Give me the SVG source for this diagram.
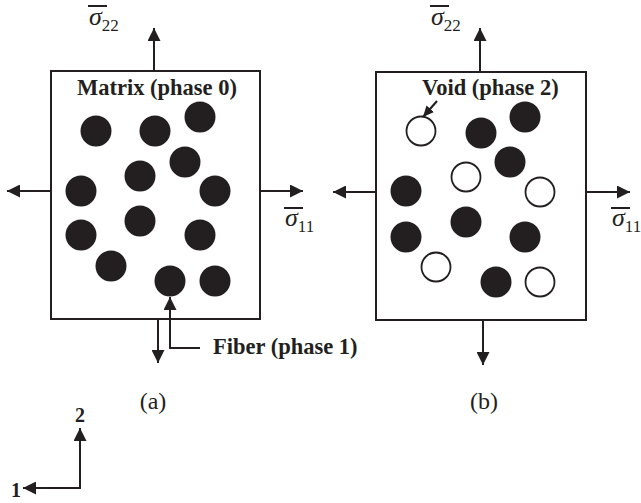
<svg xmlns="http://www.w3.org/2000/svg" width="641" height="503" viewBox="0 0 641 503">
<defs>
<marker id="ah" viewBox="0 0 13 13" refX="13" refY="6.5" markerWidth="13" markerHeight="13" markerUnits="userSpaceOnUse" orient="auto">
<path d="M0,0 L13,6.5 L0,13 Z" fill="#231f20"/>
</marker>
<marker id="ahs" viewBox="0 0 11 10" refX="11" refY="5" markerWidth="11" markerHeight="10" markerUnits="userSpaceOnUse" orient="auto">
<path d="M0,0 L11,5 L0,10 Z" fill="#231f20"/>
</marker>
</defs>
<style>
.box{fill:#fff;stroke:#231f20;stroke-width:2}
.f{fill:#231f20}
.h{fill:#fff;stroke:#231f20;stroke-width:1.8}
.ln{fill:none;stroke:#231f20;stroke-width:2}
.lb{font-family:"Liberation Serif",serif;font-weight:bold;font-size:22.5px;fill:#231f20}
.cap{font-family:"Liberation Serif",serif;font-size:24px;fill:#231f20}
.sg{font-family:"Liberation Serif",serif;font-style:italic;font-size:26px;fill:#231f20}
.sub{font-family:"Liberation Serif",serif;font-style:normal;font-size:17px;fill:#231f20}
.ax{font-family:"Liberation Serif",serif;font-weight:bold;font-size:20px;fill:#231f20}
</style>

<g id="panel-a">
<rect class="box" x="51" y="71" width="209" height="248"/>
<text class="lb" x="77" y="95">Matrix (phase 0)</text>
<circle class="f" cx="96" cy="131" r="15.5"/>
<circle class="f" cx="155" cy="131" r="15.5"/>
<circle class="f" cx="200" cy="117" r="15.5"/>
<circle class="f" cx="185" cy="162" r="15.5"/>
<circle class="f" cx="140" cy="176" r="15.5"/>
<circle class="f" cx="81" cy="191" r="15.5"/>
<circle class="f" cx="215" cy="191" r="15.5"/>
<circle class="f" cx="140" cy="221" r="15.5"/>
<circle class="f" cx="81" cy="235" r="15.5"/>
<circle class="f" cx="200" cy="235" r="15.5"/>
<circle class="f" cx="111" cy="266" r="15.5"/>
<circle class="f" cx="170" cy="281" r="15.5"/>
<circle class="f" cx="215" cy="281" r="15.5"/>
<text class="cap" x="153" y="409" text-anchor="middle">(a)</text>
</g>

<g id="panel-b">
<rect class="box" x="376" y="72" width="210" height="248"/>
<text class="lb" x="422" y="95">Void (phase 2)</text>
<circle class="h" cx="421" cy="131" r="14.5"/>
<circle class="f" cx="481" cy="133" r="15.5"/>
<circle class="f" cx="525" cy="117" r="15.5"/>
<circle class="f" cx="510" cy="162" r="15.5"/>
<circle class="h" cx="466" cy="177" r="14.5"/>
<circle class="f" cx="406" cy="191" r="15.5"/>
<circle class="h" cx="540" cy="192" r="14.5"/>
<circle class="f" cx="466" cy="222" r="15.5"/>
<circle class="f" cx="406" cy="237" r="15.5"/>
<circle class="f" cx="525" cy="237" r="15.5"/>
<circle class="h" cx="436" cy="267" r="14.5"/>
<circle class="f" cx="496" cy="282" r="15.5"/>
<circle class="h" cx="540" cy="282" r="14.5"/>
<text class="cap" x="484" y="409" text-anchor="middle">(b)</text>
</g>

<g id="labels">
<line class="ln" x1="88" y1="6" x2="107" y2="6" stroke-width="1.8"/>
<text class="sg" x="89" y="25">σ<tspan class="sub" dy="6">22</tspan></text>
<line class="ln" x1="284" y1="208" x2="303" y2="208" stroke-width="1.8"/>
<text class="sg" x="285" y="226">σ<tspan class="sub" dy="6">11</tspan></text>
<line class="ln" x1="430" y1="6" x2="449" y2="6" stroke-width="1.8"/>
<text class="sg" x="431" y="25">σ<tspan class="sub" dy="6">22</tspan></text>
<line class="ln" x1="611" y1="208" x2="630" y2="208" stroke-width="1.8"/>
<text class="sg" x="612" y="226">σ<tspan class="sub" dy="6">11</tspan></text>
<text class="lb" x="213" y="354">Fiber (phase 1)</text>
<text class="ax" x="80" y="422" text-anchor="middle">2</text>
<text class="ax" x="11" y="497">1</text>
</g>

<g id="connectors">
<line class="ln" x1="154" y1="71" x2="154" y2="28" marker-end="url(#ah)"/>
<line class="ln" x1="51" y1="191" x2="7" y2="191" marker-end="url(#ah)"/>
<line class="ln" x1="260" y1="191" x2="303" y2="191" marker-end="url(#ah)"/>
<line class="ln" x1="158" y1="319" x2="158" y2="363" marker-end="url(#ah)"/>
<polyline class="ln" points="200,348 170,348 170,297" marker-end="url(#ah)"/>
<line class="ln" x1="480" y1="72" x2="480" y2="28" marker-end="url(#ah)"/>
<line class="ln" x1="376" y1="192" x2="333" y2="192" marker-end="url(#ah)"/>
<line class="ln" x1="586" y1="192" x2="630" y2="192" marker-end="url(#ah)"/>
<line class="ln" x1="483" y1="320" x2="483" y2="365" marker-end="url(#ah)"/>
<line class="ln" x1="437" y1="101" x2="423" y2="117" marker-end="url(#ahs)"/>
<polyline class="ln" points="80,488 80,428" marker-end="url(#ah)"/>
<polyline class="ln" points="81,488 23,488" marker-end="url(#ah)"/>
</g>
</svg>
